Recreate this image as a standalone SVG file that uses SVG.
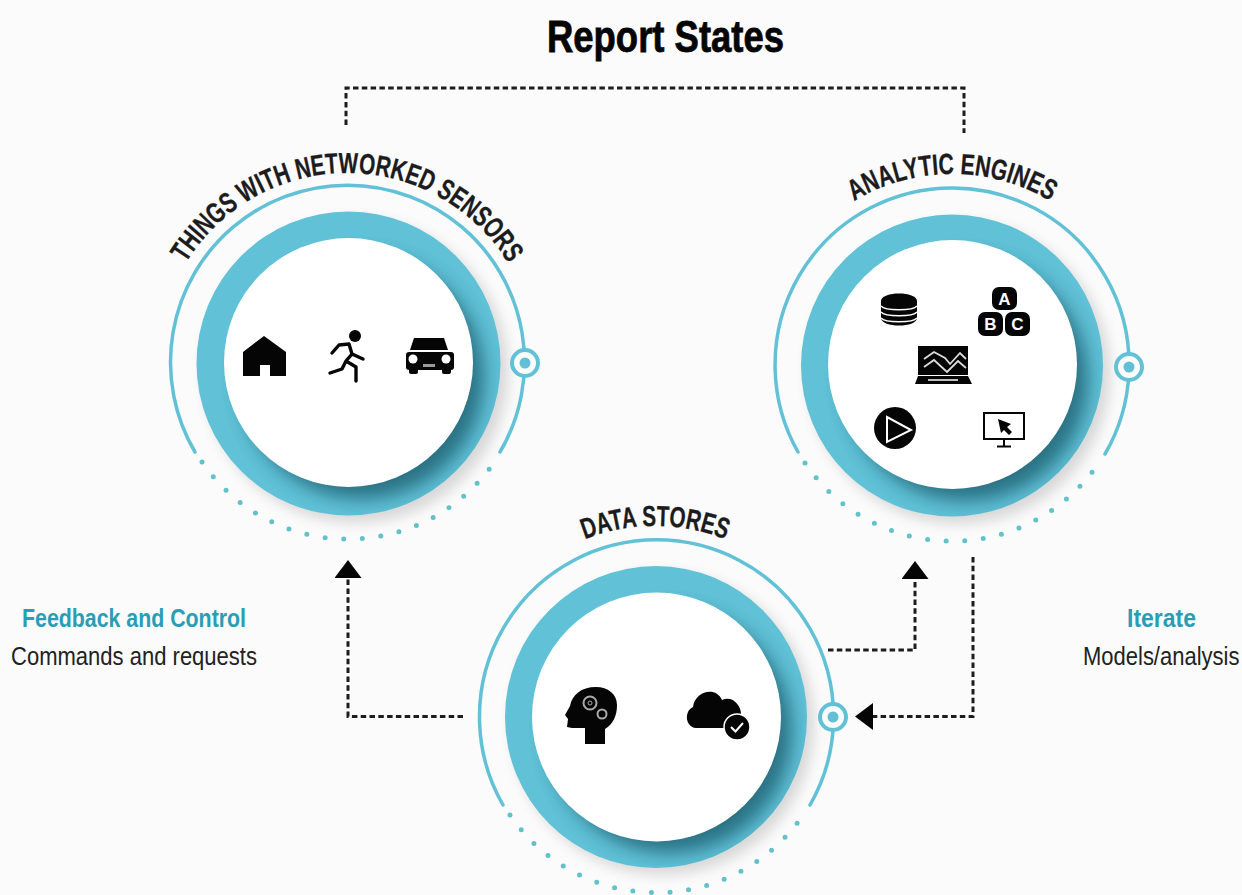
<svg xmlns="http://www.w3.org/2000/svg" width="1242" height="895" viewBox="0 0 1242 895">
<style>
.ring{fill:none;stroke:#62c1d6;stroke-width:3.5;stroke-linecap:round}
.dots{fill:none;stroke:#62c1c9;stroke-width:5;stroke-linecap:round;stroke-dasharray:0 18.6}
.teal{fill:#60c1d7}
.white{fill:#fff}
.soft{fill:#000;opacity:.14;filter:url(#b2)}
.shade{fill:#1f5f70;opacity:.8;filter:url(#b1)}
.nodeo{fill:#fbfbfb;stroke:#62c1d6;stroke-width:4}
.nodei{fill:#62bfd4}
.curve{font-family:"Liberation Sans",sans-serif;font-weight:700;font-size:29px;fill:#1c1c1c;stroke:#1c1c1c;stroke-width:.3}
.lab{font-family:"Liberation Sans",sans-serif;font-size:25px}
.blue{fill:#2a9db6;font-weight:700}
.blk{fill:#222}
.conn{fill:none;stroke:#1d1d1d;stroke-width:3;stroke-dasharray:5.5 3.3}
.ic{fill:#050505}
.icw{fill:none;stroke:#ddd;stroke-width:1.8}
.abc{font-family:"Liberation Sans",sans-serif;font-size:17px;font-weight:700;fill:#fff;text-anchor:middle}
</style>
<defs>
<filter id="b1" x="-30%" y="-30%" width="160%" height="160%"><feGaussianBlur stdDeviation="9"/></filter>
<filter id="b2" x="-30%" y="-30%" width="160%" height="160%"><feGaussianBlur stdDeviation="7"/></filter>
<clipPath id="c1"><circle cx="348.500" cy="363.500" r="152"/></clipPath>
<clipPath id="c2"><circle cx="952" cy="365.500" r="151"/></clipPath>
<clipPath id="c3"><circle cx="656" cy="717" r="151"/></clipPath>
<path id="t1" d="M158,362A189,189 0 0 1 536,362"/>
<path id="t2" d="M761,365A191,191 0 0 1 1143,365"/>
<path id="t3" d="M464,717A191,191 0 0 1 846,717"/>
<marker id="ah" viewBox="0 -13.500 18 27" refX="0" refY="0" markerWidth="18" markerHeight="27" markerUnits="userSpaceOnUse" orient="auto"><path d="M0,-13.500L18,0L0,13.500z" fill="#050505"/></marker>
</defs>
<rect width="1242" height="895" fill="#fbfbfb"/>
<text id="title" x="547" y="52" textLength="237" lengthAdjust="spacingAndGlyphs" font-family="'Liberation Sans',sans-serif" font-weight="700" font-size="44" fill="#050505" stroke="#050505" stroke-width=".8">Report States</text>

<g id="connectors">
<path class="conn" d="M346,125V88H964V133"/>
<path class="conn" d="M463,716.500H348V578" marker-end="url(#ah)"/>
<path class="conn" d="M828,650H915V579" marker-end="url(#ah)"/>
<path class="conn" d="M973,557V716.500H873" marker-end="url(#ah)"/>
</g>

<g id="node-things">
<circle class="soft" cx="356" cy="371" r="152"/>
<circle class="teal" cx="348.500" cy="363.500" r="152"/>
<g clip-path="url(#c1)"><circle class="shade" cx="362" cy="377" r="122"/></g>
<circle class="white" cx="348.500" cy="362.500" r="124.500"/>
<path class="ring" d="M195,452A177,177 0 1 1 500,452"/>
<path class="dots" d="M202,462A177,177 0 0 0 490,468"/>
<circle class="nodeo" cx="525" cy="363" r="13"/><circle class="nodei" cx="525" cy="363" r="5.500"/>
<text class="curve" textLength="386" lengthAdjust="spacingAndGlyphs"><textPath href="#t1" startOffset="104">THINGS WITH NETWORKED SENSORS</textPath></text>
<path class="ic" d="M264,336L286,352V376H270V365H260V376H243V352z"/>
<circle class="ic" cx="355" cy="336" r="6"/>
<path fill="none" stroke="#050505" stroke-width="3.400" stroke-linecap="round" stroke-linejoin="round" d="M332,353L339,345L349,344L352,354L363,359M352,354L346,361L356,367L356,381M346,361L342,369L330,373"/>
<path class="ic" d="M414,338H444L448,350H410z"/>
<rect class="ic" x="406" y="352" width="48" height="18" rx="3"/>
<rect class="ic" x="409" y="366" width="9" height="8" rx="2"/><rect class="ic" x="442" y="366" width="9" height="8" rx="2"/>
<circle class="white" cx="413" cy="359" r="4.500"/><circle class="white" cx="446" cy="359" r="4.500"/>
<rect x="423" y="364" width="12" height="3" fill="#999"/>
</g>

<g id="node-analytic">
<circle class="soft" cx="959" cy="373" r="151"/>
<circle class="teal" cx="952" cy="365.500" r="151"/>
<g clip-path="url(#c2)"><circle class="shade" cx="966" cy="379" r="122"/></g>
<circle class="white" cx="952.500" cy="364.500" r="124.500"/>
<path class="ring" d="M798,452A177,177 0 1 1 1105,454"/>
<path class="dots" d="M805,463A177,177 0 0 0 1093,471"/>
<circle class="nodeo" cx="1129" cy="367" r="13"/><circle class="nodei" cx="1129" cy="367" r="5.500"/>
<text class="curve" textLength="206" lengthAdjust="spacingAndGlyphs"><textPath href="#t2" startOffset="197">ANALYTIC ENGINES</textPath></text>
<path class="ic" d="M881,301C881,291 917,291 917,301V318C917,328 881,328 881,318z"/>
<path fill="none" stroke="#fff" stroke-width="1.300" d="M881,306C885,311 913,311 917,306M881,312C885,317 913,317 917,312M881,318C885,323 913,323 917,318"/>
<rect class="ic" x="992" y="287" width="25" height="23" rx="7"/>
<rect class="ic" x="978" y="312" width="25" height="24" rx="7"/>
<rect class="ic" x="1005" y="312" width="25" height="24" rx="7"/>
<text class="abc" x="1004.500" y="304.500">A</text><text class="abc" x="990.500" y="330">B</text><text class="abc" x="1017.500" y="330">C</text>
<rect class="ic" x="918" y="346" width="50" height="29"/>
<path class="ic" d="M918,376H968L972,384H915z"/>
<path class="icw" d="M924,359L934,352L945,358L950,364L960,353L966,359M924,367L934,360L947,372L958,361L966,368"/>
<path fill="none" stroke="#fff" stroke-width="1.500" d="M928,380H958"/>
<circle class="ic" cx="895" cy="428" r="21"/>
<path fill="none" stroke="#fff" stroke-width="2" d="M887,417V442L911,430z"/>
<rect x="984" y="413" width="40" height="26" fill="none" stroke="#050505" stroke-width="2"/>
<path fill="none" stroke="#050505" stroke-width="2" d="M1004,439V446M997,446.500H1011"/>
<path class="ic" d="M998,419L1011,424L1007,427L1012,432L1009,435L1004,430L1001,433z"/>
</g>

<g id="node-data">
<circle class="soft" cx="663" cy="724" r="151"/>
<circle class="teal" cx="656" cy="717" r="151"/>
<g clip-path="url(#c3)"><circle class="shade" cx="670" cy="731" r="122"/></g>
<circle class="white" cx="656.500" cy="717" r="124.500"/>
<path class="ring" d="M503,805A177,177 0 1 1 810,805"/>
<path class="dots" d="M510,815A177,177 0 0 0 798,822"/>
<circle class="nodeo" cx="833" cy="717" r="13"/><circle class="nodei" cx="833" cy="717" r="5.500"/>
<text class="curve" textLength="144" lengthAdjust="spacingAndGlyphs"><textPath href="#t3" startOffset="228">DATA STORES</textPath></text>
<path class="ic" d="M585,744H605V729C613,724 617,716 617,705C617,694 608,687 596,687C581,687 572,695 570,706L565,715L568,719L567,727L572,728H585z"/>
<circle cx="590" cy="703" r="6.500" fill="none" stroke="#aaa" stroke-width="2"/><circle cx="590" cy="703" r="2" fill="none" stroke="#aaa"/>
<circle cx="602" cy="714" r="4.500" fill="none" stroke="#aaa" stroke-width="2"/>
<path class="ic" d="M696,728C685,727 684,711 693,707C695,691 716,686 722,700C732,695 741,705 741,714L735,728z"/>
<circle cx="737" cy="727" r="13" fill="#050505" stroke="#fff" stroke-width="1.500"/>
<path fill="none" stroke="#fff" stroke-width="2" d="M731,727L735.500,731.500L743,723"/>
</g>

<g id="label-feedback">
<text class="lab blue" x="22" y="627" textLength="224" lengthAdjust="spacingAndGlyphs">Feedback and Control</text>
<text class="lab blk" x="11" y="665" textLength="246" lengthAdjust="spacingAndGlyphs">Commands and requests</text>
</g>
<g id="label-iterate">
<text class="lab blue" x="1127" y="627" textLength="69" lengthAdjust="spacingAndGlyphs">Iterate</text>
<text class="lab blk" transform="translate(1083,665) scale(.88,1)" x="0" y="0">Models/analysis</text>
</g>
</svg>
